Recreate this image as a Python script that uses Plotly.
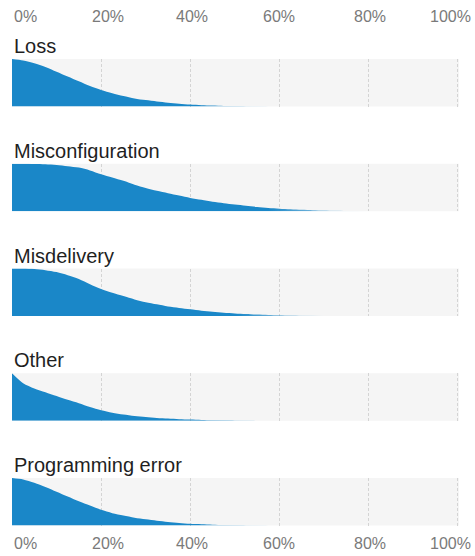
import plotly.graph_objects as go

# Share of incidents (percent) where each density is sampled
pct_step = 2.5

categories = ["Loss", "Misconfiguration", "Misdelivery", "Other", "Programming error"]

# Relative density (peak = 1) for each category, sampled every 2.5 % from 0 %
loss_density = [1.0, 0.97, 0.91, 0.83, 0.73, 0.63, 0.53, 0.43, 0.35, 0.28, 0.22, 0.17,
                0.135, 0.105, 0.08, 0.058, 0.04, 0.028, 0.019, 0.013, 0.009, 0.006,
                0.004, 0.002, 0.0]
misconfiguration_density = [1.0, 1.0, 0.995, 0.99, 0.975, 0.95, 0.92, 0.86, 0.78, 0.71,
                            0.64, 0.56, 0.49, 0.43, 0.38, 0.33, 0.28, 0.24, 0.20, 0.17,
                            0.14, 0.115, 0.09, 0.07, 0.055, 0.042, 0.03, 0.022, 0.015,
                            0.01, 0.006, 0.003, 0.0]
misdelivery_density = [1.0, 1.0, 0.99, 0.965, 0.925, 0.86, 0.78, 0.67, 0.57, 0.49, 0.42,
                       0.35, 0.29, 0.245, 0.20, 0.17, 0.14, 0.11, 0.09, 0.07, 0.055,
                       0.042, 0.03, 0.022, 0.015, 0.01, 0.006, 0.003, 0.0]
other_density = [1.0, 0.79, 0.68, 0.60, 0.52, 0.44, 0.37, 0.29, 0.22, 0.17, 0.13, 0.10,
                 0.08, 0.06, 0.045, 0.034, 0.025, 0.018, 0.012, 0.008, 0.005, 0.003,
                 0.002, 0.001, 0.0]
programming_error_density = [1.0, 0.97, 0.90, 0.81, 0.71, 0.61, 0.51, 0.42, 0.33, 0.26,
                             0.21, 0.165, 0.13, 0.10, 0.075, 0.053, 0.035, 0.025, 0.017,
                             0.012, 0.008, 0.005, 0.003, 0.0015, 0.0]

densities = [loss_density, misconfiguration_density, misdelivery_density,
             other_density, programming_error_density]

tick_values = [0, 20, 40, 60, 80, 100]
tick_labels = ["0%", "20%", "40%", "60%", "80%", "100%"]

W, H = 475, 556
BLUE = "#1a87c8"
BLUE_FADE = "rgba(26,135,200,0.12)"
PANEL_BG = "#f5f5f5"
GRID = "#d4d4d4"
LABEL = "#7a7a7a"
TITLE = "#1f1f1f"
FONT = "Liberation Sans, Arial, sans-serif"

X_MAX = 100.3  # a little past 100 so the 100 % gridline is kept

panel_top0 = 59.0
panel_pitch = 104.75
panel_h = 47.5

fig = go.Figure()
annotations = []

for i, (name, dens) in enumerate(zip(categories, densities)):
    n = i + 1
    xa = "x" if n == 1 else f"x{n}"
    ya = "y" if n == 1 else f"y{n}"
    xs = [k * pct_step for k in range(len(dens))]
    fig.add_trace(go.Scatter(
        x=xs, y=dens, xaxis=xa, yaxis=ya,
        mode="lines", fill="tozeroy",
        line=dict(width=0, color=BLUE, shape="spline", smoothing=0.8),
        fillgradient=dict(type="horizontal",
                          colorscale=[[0, BLUE], [0.72, BLUE], [1, BLUE_FADE]]),
        hoverinfo="skip", showlegend=False,
    ))
    top = panel_top0 + i * panel_pitch
    dom = [1 - (top + panel_h) / H, 1 - top / H]
    xkey = "xaxis" if n == 1 else f"xaxis{n}"
    ykey = "yaxis" if n == 1 else f"yaxis{n}"
    fig.update_layout(**{
        xkey: dict(range=[0, X_MAX], domain=[0, 1], anchor=ya,
                   matches=None if n == 1 else "x",
                   tickvals=tick_values[1:], showticklabels=False, ticks="",
                   showgrid=True, gridcolor=GRID, gridwidth=1, griddash="3px,2px",
                   zeroline=False, showline=False, fixedrange=True),
        ykey: dict(range=[0, 1], domain=dom, anchor=xa,
                   showgrid=False, zeroline=False, showticklabels=False,
                   ticks="", showline=False, fixedrange=True),
    })
    annotations.append(dict(
        text=name, xref="paper", yref="paper", x=0, y=dom[1],
        xanchor="left", yanchor="bottom", showarrow=False,
        font=dict(family=FONT, size=20, color=TITLE),
    ))

# Percentage scale printed above and below the panels
label_shift = [0, 7, 2, 0, 1, 15]
label_anchor = ["left", "center", "center", "center", "center", "right"]
for yv in (1 - 16.4 / H, 1 - 543.3 / H):
    for v, t, s, a in zip(tick_values, tick_labels, label_shift, label_anchor):
        annotations.append(dict(
            text=t, xref="x", yref="paper", x=v, y=yv, xshift=s,
            xanchor=a, yanchor="middle", showarrow=False,
            font=dict(family=FONT, size=16, color=LABEL),
        ))

fig.update_layout(
    width=W, height=H,
    margin=dict(l=12, r=16, t=0, b=0),
    paper_bgcolor="white", plot_bgcolor=PANEL_BG,
    annotations=annotations,
    showlegend=False,
)

fig.write_html("out.html", config={"displayModeBar": False})
